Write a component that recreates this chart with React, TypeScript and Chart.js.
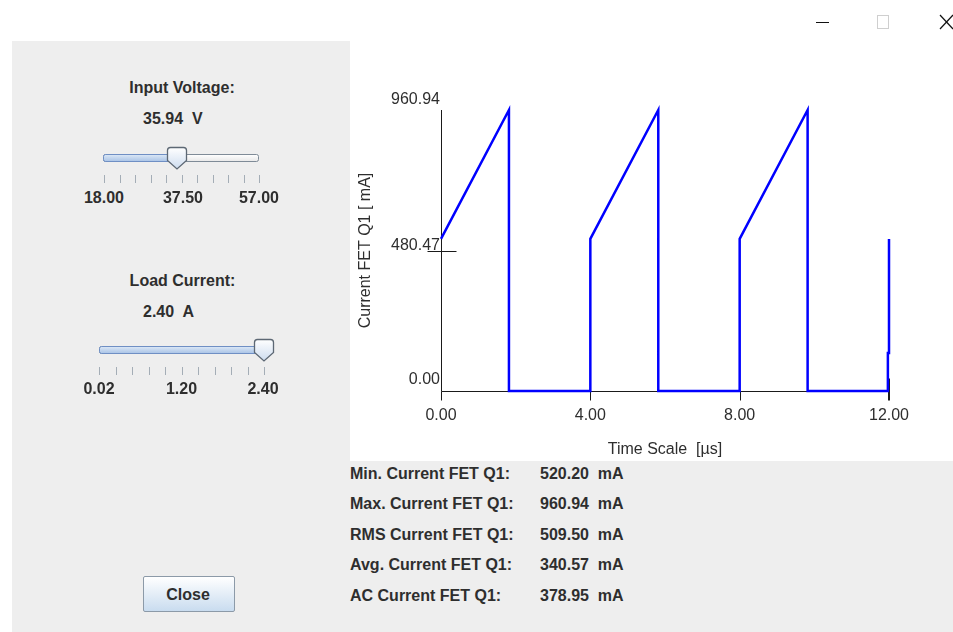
import React, { useEffect, useRef } from "react";
import { Chart, registerables } from "chart.js";

Chart.register(...registerables);

// ---- data ----
const timeUs = [0, 1.82, 1.82, 4, 4, 5.82, 5.82, 8, 8, 9.82, 9.82, 11.97, 11.97, 12, 12];
const currentMa = [520.2, 960.94, 0, 0, 520.2, 960.94, 0, 0, 520.2, 960.94, 0, 0, 130, 130, 520.2];
const xTickValues = [0, 4, 8, 12];
const xTickLabels = ["0.00", "4.00", "8.00", "12.00"];
const yTickValues = [0, 480.47, 960.94];
const yTickLabels = ["0.00", "480.47", "960.94"];
const yTickMarkValues = [480.47];
const xAxisTitle = "Time Scale  [µs]";
const yAxisTitle = "Current FET Q1 [ mA]";

const statLabels = [
  "Min. Current FET Q1:",
  "Max. Current FET Q1:",
  "RMS Current FET Q1:",
  "Avg. Current FET Q1:",
  "AC Current FET Q1:",
];
const statValues = ["520.20  mA", "960.94  mA", "509.50  mA", "340.57  mA", "378.95  mA"];

const voltageLabels = ["18.00", "37.50", "57.00"];
const currentLabels = ["0.02", "1.20", "2.40"];

const FONT = '"Liberation Sans", Arial, Helvetica, sans-serif';
const TEXT = "#2e2e2e";

const axesPlugin = {
  id: "fetAxes",
  beforeDatasetsDraw(chart: any) {
    const { ctx, scales } = chart;
    const xs = scales.x;
    const ys = scales.y;
    const xMin = xTickValues[0];
    const xMax = xTickValues[xTickValues.length - 1];
    const yMax = yTickValues[yTickValues.length - 1];
    const x0 = Math.round(xs.getPixelForValue(xMin)) + 0.5;
    const x1 = Math.round(xs.getPixelForValue(xMax));
    const y0 = Math.round(ys.getPixelForValue(0)) + 0.5;
    const yTop = Math.round(ys.getPixelForValue(yMax));
    ctx.save();
    ctx.strokeStyle = "#1a1a1a";
    ctx.lineWidth = 1;
    ctx.beginPath();
    ctx.moveTo(x0, yTop);
    ctx.lineTo(x0, y0);
    ctx.moveTo(x0, y0);
    ctx.lineTo(x1, y0);
    ctx.stroke();

    // x ticks
    xTickValues.forEach((v, i) => {
      const px = Math.round(xs.getPixelForValue(v)) + 0.5;
      ctx.beginPath();
      if (i === xTickValues.length - 1) {
        ctx.lineWidth = 2;
        ctx.moveTo(px - 0.5, y0 - 13);
        ctx.lineTo(px - 0.5, y0 + 9);
      } else {
        ctx.lineWidth = 1;
        ctx.moveTo(px, y0);
        ctx.lineTo(px, y0 + 9);
      }
      ctx.stroke();
    });
    ctx.lineWidth = 1;
    // y tick marks
    yTickMarkValues.forEach((v) => {
      const py = Math.round(ys.getPixelForValue(v)) + 0.5;
      ctx.beginPath();
      ctx.moveTo(x0 - 14, py);
      ctx.lineTo(x0 + 15, py);
      ctx.stroke();
    });

    ctx.fillStyle = TEXT;
    ctx.font = `16px ${FONT}`;
    // x labels
    ctx.textAlign = "center";
    ctx.textBaseline = "alphabetic";
    xTickValues.forEach((v, i) => {
      const px = xs.getPixelForValue(v);
      ctx.fillText(xTickLabels[i], px, y0 + 28);
    });
    // y labels
    ctx.textAlign = "right";
    yTickValues.forEach((v, i) => {
      const py = ys.getPixelForValue(v);
      let by = py - 1;
      if (v === 0) by = py - 7;
      else if (v === yMax) by = py - 6;
      ctx.fillText(yTickLabels[i], x0 - 1.5, by);
    });
    // titles
    ctx.textAlign = "center";
    ctx.fillText(xAxisTitle, (xs.left + xs.right) / 2, y0 + 62);
    ctx.save();
    ctx.translate(16, (ys.top + ys.bottom) / 2);
    ctx.rotate(-Math.PI / 2);
    ctx.textBaseline = "middle";
    ctx.fillText(yAxisTitle, 0, 0);
    ctx.restore();
    ctx.restore();
  },
};

function FetChart() {
  const ref = useRef<HTMLCanvasElement | null>(null);
  useEffect(() => {
    if (!ref.current) return;
    const chart = new Chart(ref.current, {
      type: "line",
      data: {
        datasets: [
          {
            data: timeUs.map((t, i) => ({ x: t, y: currentMa[i] })),
            borderColor: "#0000ff",
            borderWidth: 2.5,
            pointRadius: 0,
            tension: 0,
            fill: false,
            clip: 6,
          },
        ],
      },
      options: {
        animation: false,
        responsive: false,
        devicePixelRatio: 1,
        layout: { padding: { left: 91, right: 64, top: 69, bottom: 70 } },
        plugins: { legend: { display: false }, tooltip: { enabled: false } },
        scales: {
          x: { type: "linear", min: 0, max: 12, display: false },
          y: { type: "linear", min: 0, max: 960.94, display: false },
        },
      },
      plugins: [axesPlugin],
    } as any);
    return () => chart.destroy();
  }, []);
  return (
    <canvas
      ref={ref}
      width={603}
      height={420}
      style={{ position: "absolute", left: 350, top: 41, width: 603, height: 420, background: "#ffffff" }}
    />
  );
}

function Txt(props: { x: number; y: number; text: string; align?: "left" | "center"; bold?: boolean }) {
  const { x, y, text, align = "left", bold = true } = props;
  const style: any = {
    position: "absolute",
    top: y - 10,
    height: 20,
    lineHeight: "20px",
    fontFamily: FONT,
    fontSize: 16,
    fontWeight: bold ? "bold" : "normal",
    color: TEXT,
    whiteSpace: "pre",
  };
  if (align === "center") {
    style.left = x - 100;
    style.width = 200;
    style.textAlign = "center";
  } else {
    style.left = x;
  }
  return <div style={style}>{text}</div>;
}

function Slider(props: {
  tx1: number;
  tx2: number;
  ty: number;
  thumbCx: number;
  thumbTop: number;
  tickX1: number;
  tickX2: number;
  tickY: number;
  id: string;
}) {
  const { tx1, tx2, ty, thumbCx, thumbTop, tickX1, tickX2, tickY, id } = props;
  const ticks = [];
  for (let i = 0; i <= 10; i++) {
    const x = Math.round(tickX1 + ((tickX2 - tickX1) * i) / 10) + 0.5;
    ticks.push(<line key={i} x1={x} y1={tickY} x2={x} y2={tickY + 8} stroke="#a4adb6" strokeWidth={1} />);
  }
  const l = thumbCx - 10;
  const r = thumbCx + 10;
  const t = thumbTop + 0.5;
  const path = `M ${l + 0.5} ${t + 3} Q ${l + 0.5} ${t} ${l + 3.5} ${t} L ${r - 3.5} ${t} Q ${r - 0.5} ${t} ${r - 0.5} ${t + 3} L ${r - 0.5} ${t + 13} L ${thumbCx} ${t + 21.5} L ${l + 0.5} ${t + 13} Z`;
  return (
    <svg style={{ position: "absolute", left: 0, top: 0, overflow: "visible" }} width={1} height={1}>
      <defs>
        <linearGradient id={id + "tr"} x1="0" y1="0" x2="0" y2="1">
          <stop offset="0" stopColor="#ffffff" />
          <stop offset="1" stopColor="#e8e8e8" />
        </linearGradient>
        <linearGradient id={id + "fl"} x1="0" y1="0" x2="0" y2="1">
          <stop offset="0" stopColor="#dce8f6" />
          <stop offset="1" stopColor="#a9c3e6" />
        </linearGradient>
        <linearGradient id={id + "th"} x1="0" y1="0" x2="0" y2="1">
          <stop offset="0" stopColor="#ffffff" />
          <stop offset="1" stopColor="#cddcef" />
        </linearGradient>
      </defs>
      <rect x={tx1 + 0.5} y={ty + 0.5} width={tx2 - tx1 - 1} height={7} rx={2} fill={`url(#${id}tr)`} stroke="#7f8b97" />
      <rect x={tx1 + 0.5} y={ty + 0.5} width={thumbCx - tx1} height={7} rx={2} fill={`url(#${id}fl)`} stroke="#6f8fc4" />
      <path d={path} fill={`url(#${id}th)`} stroke="#5d6874" strokeWidth={1.3} />
      {ticks}
    </svg>
  );
}

function TitleBar() {
  return (
    <svg style={{ position: "absolute", left: 0, top: 0 }} width={953} height={40}>
      <line x1={816} y1={22.5} x2={829} y2={22.5} stroke="#111" strokeWidth={1} />
      <rect x={877.5} y={15.5} width={11} height={13} fill="none" stroke="#cfcfcf" strokeWidth={1} />
      <line x1={940} y1={15} x2={953} y2={29} stroke="#111" strokeWidth={1.2} />
      <line x1={953} y1={15} x2={940} y2={29} stroke="#111" strokeWidth={1.2} />
    </svg>
  );
}

export default function App() {
  const rowY = [473.5, 504, 535, 565, 596];
  return (
    <div
      style={{
        position: "fixed",
        left: 0,
        top: 0,
        width: 953,
        height: 632,
        background: "#ffffff",
        overflow: "hidden",
        fontFamily: FONT,
      }}
    >
      <TitleBar />
      {/* grey panels */}
      <div style={{ position: "absolute", left: 12, top: 41, width: 338, height: 591, background: "#eeeeee" }} />
      <div style={{ position: "absolute", left: 12, top: 461, width: 941, height: 171, background: "#eeeeee" }} />
      <FetChart />

      {/* input voltage */}
      <Txt x={182} y={87.5} text="Input Voltage:" align="center" />
      <Txt x={143} y={119} text="35.94  V" />
      <Slider id="s1" tx1={103} tx2={259} ty={154} thumbCx={177} thumbTop={147} tickX1={104} tickX2={259} tickY={175} />
      <Txt x={104} y={197.5} text={voltageLabels[0]} align="center" />
      <Txt x={183} y={197.5} text={voltageLabels[1]} align="center" />
      <Txt x={259} y={197.5} text={voltageLabels[2]} align="center" />

      {/* load current */}
      <Txt x={182.5} y={280.5} text="Load Current:" align="center" />
      <Txt x={143} y={311.5} text="2.40  A" />
      <Slider id="s2" tx1={99} tx2={273} ty={346} thumbCx={264} thumbTop={339} tickX1={99} tickX2={264} tickY={367} />
      <Txt x={99} y={389} text={currentLabels[0]} align="center" />
      <Txt x={181.5} y={389} text={currentLabels[1]} align="center" />
      <Txt x={263} y={389} text={currentLabels[2]} align="center" />

      {/* stats */}
      {statLabels.map((s, i) => (
        <React.Fragment key={i}>
          <Txt x={350} y={rowY[i]} text={s} />
          <Txt x={540} y={rowY[i]} text={statValues[i]} />
        </React.Fragment>
      ))}

      {/* close button */}
      <div
        style={{
          position: "absolute",
          left: 143,
          top: 576,
          width: 90,
          height: 34,
          border: "1px solid #8c9aa8",
          borderRadius: 2,
          background: "linear-gradient(#ffffff, #c9dcef)",
        }}
      />
      <Txt x={188} y={594.5} text="Close" align="center" />
    </div>
  );
}
